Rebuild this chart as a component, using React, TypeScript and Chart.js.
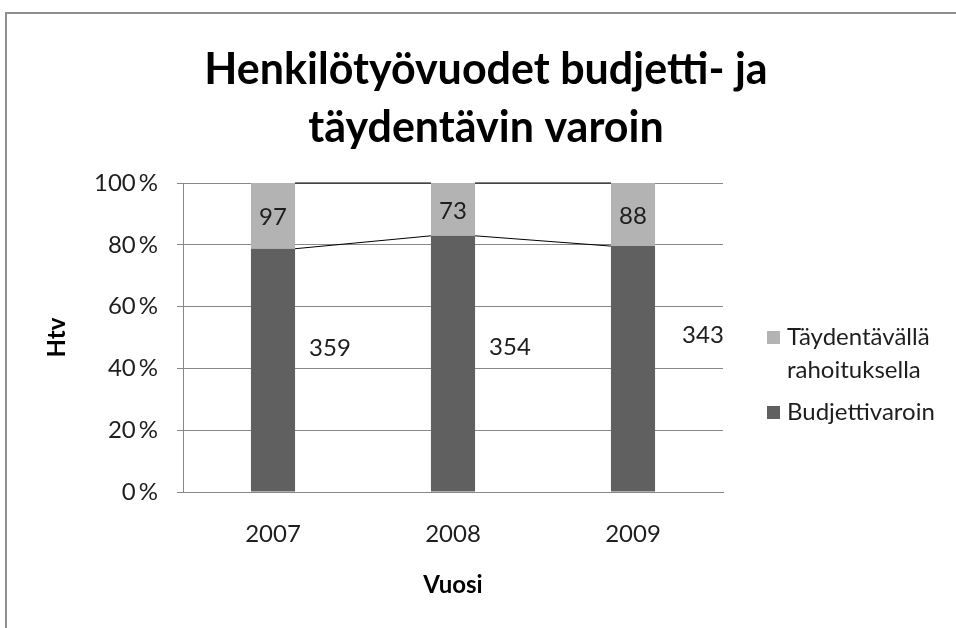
import React, { useEffect, useRef } from 'react';
import { Chart, registerables } from 'chart.js';

Chart.register(...registerables);

// ---- data ----
const TITLE_LINES = ['Henkilötyövuodet budjetti- ja', 'täydentävin varoin'];
const YEARS = ['2007', '2008', '2009'];
const BUDGET = [359, 354, 343];
const SUPPLEMENTARY = [97, 73, 88];
const SERIES_NAMES = ['Budjettivaroin', 'Täydentävällä rahoituksella'];
const Y_TICKS = [0, 20, 40, 60, 80, 100];
const X_TITLE = 'Vuosi';
const Y_TITLE = 'Htv';

// ---- style ----
const DARK = '#606060';
const LIGHT = '#b3b3b3';
const GRID = '#888888';
const TEXT = '#1e1e1e';
const FONT = 'Lato';
const CANVAS_W = 972;
const CANVAS_H = 628;

const totals = YEARS.map((_, i) => BUDGET[i] + SUPPLEMENTARY[i]);
const share = (arr: number[]) => arr.map((v, i) => (v / totals[i]) * 100);

const framePlugin = {
  id: 'frame',
  beforeDraw(chart: any) {
    const ctx = chart.ctx;
    ctx.save();
    ctx.strokeStyle = '#8f8f8f';
    ctx.lineWidth = 2;
    ctx.strokeRect(6, 13, chart.width - 8, chart.height + 20);
    ctx.restore();
  },
};

const seriesLinesPlugin = {
  id: 'seriesLines',
  afterDatasetsDraw(chart: any) {
    const ctx = chart.ctx;
    ctx.save();
    ctx.strokeStyle = '#000';
    ctx.lineWidth = 1;
    chart.data.datasets.forEach((_: any, d: number) => {
      const meta = chart.getDatasetMeta(d);
      for (let i = 0; i < meta.data.length - 1; i++) {
        const a = meta.data[i];
        const b = meta.data[i + 1];
        ctx.beginPath();
        ctx.moveTo(a.x + a.width / 2, a.y);
        ctx.lineTo(b.x - b.width / 2, b.y);
        ctx.stroke();
      }
    });
    ctx.restore();
  },
};

const segLabelsPlugin = {
  id: 'segLabels',
  afterDatasetsDraw(chart: any, _args: any, opts: any) {
    const ctx = chart.ctx;
    ctx.save();
    ctx.font = `24px ${FONT}`;
    ctx.fillStyle = TEXT;
    ctx.textAlign = 'center';
    ctx.textBaseline = 'middle';
    chart.data.datasets.forEach((ds: any, d: number) => {
      const meta = chart.getDatasetMeta(d);
      const offs = (opts.offsets && opts.offsets[d]) || [];
      meta.data.forEach((el: any, i: number) => {
        const o = offs[i] || [0, 0];
        const x = el.x + o[0];
        const y = (el.y + el.base) / 2 + o[1];
        ctx.fillText(String(ds.counts[i]), x, y);
      });
    });
    ctx.restore();
  },
};

const sideLegendPlugin = {
  id: 'sideLegend',
  afterDraw(chart: any, _args: any, opts: any) {
    const ctx = chart.ctx;
    ctx.save();
    ctx.font = `24px ${FONT}`;
    ctx.textBaseline = 'middle';
    ctx.textAlign = 'left';
    let top = opts.top;
    const x = chart.chartArea.right + opts.gapFromPlot;
    const items = chart.data.datasets.map((ds: any) => ds).reverse();
    items.forEach((ds: any) => {
      const words = String(ds.label).split(' ');
      const lines: string[] = [];
      let cur = '';
      words.forEach((w) => {
        const t = cur ? cur + ' ' + w : w;
        if (cur && ctx.measureText(t).width > opts.maxWidth) {
          lines.push(cur);
          cur = w;
        } else cur = t;
      });
      if (cur) lines.push(cur);
      const firstCenter = top + opts.lineHeight / 2;
      ctx.fillStyle = ds.backgroundColor;
      ctx.fillRect(x, Math.round(firstCenter - opts.box / 2), opts.box, opts.box);
      ctx.fillStyle = TEXT;
      lines.forEach((ln, k) => {
        ctx.fillText(ln, x + opts.box + opts.textGap, firstCenter + k * opts.lineHeight);
      });
      top += lines.length * opts.lineHeight + opts.itemGap;
    });
    ctx.restore();
  },
};

export default function App() {
  const ref = useRef<HTMLCanvasElement>(null);

  useEffect(() => {
    document.body.style.margin = '0';
    document.body.style.overflow = 'hidden';
    document.documentElement.style.overflow = 'hidden';
    let chart: any = null;
    let cancelled = false;
    const make = () => {
      if (cancelled || !ref.current) return;
      chart = new Chart(ref.current, {
        type: 'bar',
        data: {
          labels: YEARS,
          datasets: [
            {
              label: SERIES_NAMES[0],
              data: share(BUDGET),
              backgroundColor: DARK,
              borderWidth: 0,
              counts: BUDGET,
            } as any,
            {
              label: SERIES_NAMES[1],
              data: share(SUPPLEMENTARY),
              backgroundColor: LIGHT,
              borderWidth: 0,
              counts: SUPPLEMENTARY,
            } as any,
          ],
        },
        options: {
          responsive: false,
          animation: false,
          devicePixelRatio: 1,
          layout: { padding: 0 },
          datasets: {
            bar: { barPercentage: 0.245, categoryPercentage: 1 },
          },
          plugins: {
            legend: { display: false },
            tooltip: { enabled: false },
            title: {
              display: true,
              text: TITLE_LINES,
              color: '#000',
              font: { family: FONT, size: 43, weight: 'bold', lineHeight: 58 / 43 },
              padding: { top: 41, bottom: 26 },
            },
            segLabels: {
              offsets: [
                [
                  [57, -22],
                  [57, -16],
                  [70, -34],
                ],
                [
                  [0, 1],
                  [0, 2],
                  [0, 2],
                ],
              ],
            },
            sideLegend: {
              top: 321,
              gapFromPlot: 44,
              lineHeight: 33,
              itemGap: 9,
              box: 13,
              textGap: 7,
              maxWidth: 165,
            },
          } as any,
          scales: {
            x: {
              stacked: true,
              grid: { display: false, drawTicks: false },
              border: { display: true, color: GRID, width: 1 },
              ticks: { color: TEXT, font: { family: FONT, size: 24 }, padding: 28 },
              title: {
                display: true,
                text: X_TITLE,
                color: '#000',
                font: { family: FONT, size: 24, weight: 'bold' },
                padding: { top: 0, bottom: 28 },
              },
              afterFit(scale: any) {
                scale.height = 136;
              },
            },
            y: {
              stacked: true,
              min: 0,
              max: 100,
              grid: { color: GRID, tickLength: 6, drawTicks: true },
              border: { display: true, color: GRID, width: 1 },
              ticks: {
                color: TEXT,
                font: { family: FONT, size: 24 },
                padding: 19,
                callback: (v: any) => `${v}\u2009%`,
              },
              afterBuildTicks(scale: any) {
                scale.ticks = Y_TICKS.map((v) => ({ value: v }));
              },
              title: {
                display: true,
                text: Y_TITLE,
                color: '#000',
                font: { family: FONT, size: 24, weight: 'bold' },
                padding: { top: 43, bottom: 0 },
              },
              afterFit(scale: any) {
                scale.width = 183;
              },
            },
            legendSpace: {
              type: 'linear',
              position: 'right',
              display: true,
              grid: { display: false, drawTicks: false },
              border: { display: false },
              ticks: { display: false },
              title: { display: false },
              afterFit(scale: any) {
                scale.width = CANVAS_W - 723;
              },
            },
          },
        } as any,
        plugins: [framePlugin, seriesLinesPlugin, segLabelsPlugin, sideLegendPlugin],
      });
    };
    const fontsApi = (document as any).fonts;
    if (fontsApi && fontsApi.load) {
      Promise.all([
        fontsApi.load(`24px ${FONT}`),
        fontsApi.load(`bold 24px ${FONT}`),
      ])
        .catch(() => null)
        .then(make);
    } else {
      make();
    }
    return () => {
      cancelled = true;
      if (chart) chart.destroy();
    };
  }, []);

  return (
    <canvas
      ref={ref}
      width={CANVAS_W}
      height={CANVAS_H}
      style={{ display: 'block', width: CANVAS_W, height: CANVAS_H }}
    />
  );
}
